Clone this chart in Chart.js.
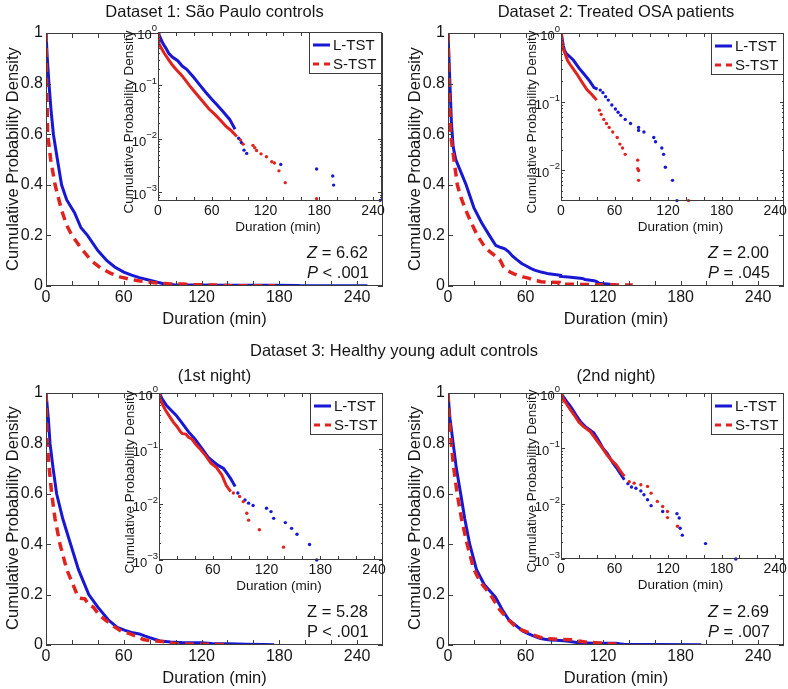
<!DOCTYPE html>
<html>
<head>
<meta charset="utf-8">
<script src="https://cdn.jsdelivr.net/npm/chart.js@4.4.1/dist/chart.umd.min.js"></script>
<style>
  body { margin: 0; width: 788px; height: 689px; position: relative; overflow: hidden; background: #fff;
         font-family: "Liberation Sans", Arial, sans-serif; color: #161616; }
  canvas { position: absolute; }
  .t { position: absolute; white-space: nowrap; line-height: 1; transform: translate(-50%, -50%); }
  .v { transform: translate(-50%, -50%) rotate(-90deg); }
  .s { position: absolute; white-space: nowrap; line-height: 1; transform: translateY(-50%); }
</style>
</head>
<body>
<script>
// =======================================
// Survival curves of bout durations
// L-TST vs S-TST, four datasets, log insets
// =======================================

// -------------------------------
// DATA: [duration (min), cumulative probability]
// "Head" = dense part, "Tail" = sparse points
// -------------------------------
const d1LongHead = [[0,1],[1,0.9],[2.3,0.8],[3.8,0.7],[5.7,0.6],[8.8,0.5],[12,0.4],[16,0.34],[22,0.29],[27,0.23],[32,0.2],[40,0.14],[47,0.1],[53,0.075],[60,0.055],[66,0.043],[72,0.033],[80,0.023],[86,0.015]];
const d1LongTail = [[90,0.0102],[93,0.0085],[96,0.0061],[99,0.0053],[137,0.0033],[177,0.0027],[195,0.002],[196,0.00135],[248,0.0007]];
const d1ShortHead = [[0,1],[0.5,0.8],[0.9,0.7],[1.3,0.6],[3.6,0.5],[7,0.4],[12,0.3],[16,0.24],[20,0.2],[27,0.15],[35,0.1],[42,0.072],[50,0.05],[57,0.036],[64,0.028],[70,0.022],[76,0.017],[82,0.014],[88,0.011]];
const d1ShortTail = [[92,0.0095],[95,0.0079],[106,0.0075],[108,0.0068],[110,0.006],[115,0.0052],[121,0.0046],[127,0.0037],[130,0.0035],[135,0.0025],[142,0.0015],[177,0.00075]];

const d2LongHead = [[0,1],[1.5,0.8],[2.6,0.65],[4,0.55],[6,0.5],[10,0.45],[14,0.4],[20,0.31],[26,0.25],[32,0.2],[37,0.16],[41,0.152]];
const d2LongTail = [[44,0.147],[47,0.135],[50,0.118],[53,0.105],[57,0.089],[61,0.078],[64,0.07],[67,0.063],[72,0.055],[78,0.048],[87,0.042],[87,0.038],[93,0.036],[104,0.03],[106,0.026],[113,0.021],[115,0.017],[117,0.011],[125,0.0071],[130,0.0036]];
const d2ShortHead = [[0,1],[0.8,0.8],[2,0.6],[4.6,0.5],[7.2,0.4],[10,0.35],[13.7,0.3],[18,0.25],[22.7,0.2],[29,0.15],[35,0.125],[40,0.105]];
const d2ShortTail = [[43,0.075],[45,0.065],[48,0.055],[51,0.048],[54,0.042],[58,0.036],[63,0.03],[66,0.024],[69,0.021],[72,0.017],[86,0.014],[86,0.0105],[87,0.0099],[87,0.0071],[143,0.0036]];

const d3LongHead = [[0,1],[1.8,0.9],[3.1,0.8],[5.5,0.7],[8.2,0.6],[13,0.5],[19,0.4],[25,0.3],[33,0.2],[40,0.15],[48,0.1],[55,0.07],[61,0.058],[66,0.05],[72,0.044],[76,0.036],[80,0.029],[85,0.021]];
const d3LongTail = [[88,0.016],[96,0.012],[100,0.0105],[105,0.0095],[120,0.0085],[125,0.0074],[128,0.0056],[141,0.0047],[148,0.0037],[154,0.0029],[168,0.0019],[176,0.001]];
const d3ShortHead = [[0,1],[1,0.8],[2.5,0.7],[4.4,0.6],[7,0.5],[10.8,0.4],[16,0.3],[20,0.25],[24,0.2],[26,0.186],[30,0.183],[33,0.16],[36.5,0.15],[41,0.12],[45.6,0.1],[52,0.075],[58,0.055],[64,0.046],[70,0.034],[75,0.022],[80,0.017]];
const d3ShortTail = [[83,0.016],[90,0.0138],[94,0.0112],[98,0.0069],[100,0.0052],[112,0.0035],[139,0.0017]];

const d4LongHead = [[0,1],[1.5,0.9],[4,0.8],[6.5,0.7],[9.8,0.6],[13,0.5],[16.8,0.4],[22,0.3],[28,0.24],[36.7,0.19],[42,0.14],[47,0.1],[52,0.08],[58,0.055],[62,0.045],[66,0.036],[71,0.027]];
const d4LongTail = [[75,0.023],[79,0.02],[84,0.019],[89.5,0.017],[93,0.0145],[97,0.0118],[101,0.0092],[114,0.0072],[130,0.0066],[132.5,0.0055],[133.6,0.0036],[136,0.0027],[162,0.0019],[196,0.001]];
const d4ShortHead = [[0,1],[1,0.9],[2.5,0.8],[4.5,0.7],[7.1,0.6],[10.5,0.5],[14.8,0.4],[20,0.3],[25,0.25],[32.8,0.2],[40,0.14],[46.7,0.1],[52,0.075],[57,0.06],[62,0.05],[66,0.04],[71,0.031]];
const d4ShortTail = [[76.5,0.025],[82,0.0235],[89.5,0.022],[97,0.0205],[101,0.0155],[108,0.011],[114,0.0089],[119.4,0.0072],[119.4,0.0056],[130.6,0.0039]];

// ticks and labels
const xTickMarks = [0, 20, 40, 60, 80, 100, 120, 140, 160, 180, 200, 220, 240];
const xTickLabels = [0, 60, 120, 180, 240];
const mainYTicks = [0, 0.2, 0.4, 0.6, 0.8, 1];
const mainYLabels = ["0", "0.2", "0.4", "0.6", "0.8", "1"];
const seriesNames = ["L-TST", "S-TST"];

// text
const panelTitles = ["Dataset 1: São Paulo controls", "Dataset 2: Treated OSA patients", "(1st night)", "(2nd night)"];
const groupTitle = "Dataset 3: Healthy young adult controls";
const zValues = ["6.62", "2.00", "5.28", "2.69"];
const pValues = ["< .001", "= .045", "< .001", "= .007"];

// -------------------------------
// LAYOUT (page pixels: left, top, right, bottom of plot areas)
// -------------------------------
const LAYOUT = [
  { main: [46, 33, 383, 286], inset: [158, 32, 382, 201], logMin: 0.00068, italic: true },
  { main: [448, 33, 784, 286], inset: [561, 33, 784, 201], logMin: 0.00355, italic: true },
  { main: [46, 393, 383, 645], inset: [159, 393, 383, 560], logMin: 0.001, italic: false },
  { main: [448, 393, 784, 645], inset: [561, 393, 784, 559], logMin: 0.001, italic: true }
];

const BLUE = "#1717d4";
const RED = "#e12320";
const INK = "#161616";
const FRAME = "#3c3c3c";
const FAMILY = "'Liberation Sans', Arial, sans-serif";

Chart.defaults.font.family = FAMILY;
Chart.defaults.color = INK;

const toXY = pts => pts.map(([x, y]) => ({ x, y }));

function addCanvas(x, y, w, h) {
  const c = document.createElement("canvas");
  c.width = w;
  c.height = h;
  c.style.left = x + "px";
  c.style.top = y + "px";
  c.style.width = w + "px";
  c.style.height = h + "px";
  document.body.appendChild(c);
  return c;
}

function addText(html, x, y, size, cls) {
  const d = document.createElement("div");
  d.className = cls;
  d.innerHTML = html;
  d.style.left = x + "px";
  d.style.top = y + "px";
  d.style.fontSize = size + "px";
  document.body.appendChild(d);
  return d;
}

// -------------------------------
// Plugins: box with inward ticks, inset decorations
// -------------------------------
const frameTicks = {
  id: "frameTicks",
  afterDraw(chart, args, opts) {
    const { ctx, chartArea: a, scales } = chart;
    const len = opts.len || 5;
    ctx.save();
    ctx.strokeStyle = FRAME;
    ctx.lineWidth = 1;
    ctx.beginPath();
    scales.x.ticks.forEach(tk => {
      const px = Math.round(scales.x.getPixelForValue(tk.value)) + 0.5;
      ctx.moveTo(px, a.bottom);
      ctx.lineTo(px, a.bottom - len);
      ctx.moveTo(px, a.top);
      ctx.lineTo(px, a.top + len);
    });
    scales.y.ticks.forEach(tk => {
      const py = Math.round(scales.y.getPixelForValue(tk.value)) + 0.5;
      const l = tk.minor ? len * 0.5 : len;
      ctx.moveTo(a.left, py);
      ctx.lineTo(a.left + l, py);
      ctx.moveTo(a.right, py);
      ctx.lineTo(a.right - l, py);
    });
    ctx.stroke();
    ctx.strokeRect(a.left + 0.5, a.top + 0.5, a.right - a.left - 1, a.bottom - a.top - 1);
    ctx.restore();
  }
};

const insetDecor = {
  id: "insetDecor",
  beforeDraw(chart) {
    const { ctx, chartArea: a } = chart;
    ctx.save();
    ctx.fillStyle = "#fff";
    ctx.fillRect(a.left, a.top, a.right - a.left, a.bottom - a.top);
    ctx.restore();
  },
  afterDraw(chart) {
    const { ctx, chartArea: a, scales } = chart;
    ctx.save();
    ctx.fillStyle = INK;

    // 10^k labels on the log axis
    scales.y.ticks.filter(tk => !tk.minor).forEach(tk => {
      const py = scales.y.getPixelForValue(tk.value);
      const exp = String(Math.round(Math.log10(tk.value))).replace("-", "\u2212");
      ctx.font = "9.5px " + FAMILY;
      const ew = ctx.measureText(exp).width;
      ctx.textAlign = "right";
      ctx.textBaseline = "alphabetic";
      ctx.fillText(exp, a.left - 1, py - 1);
      ctx.font = "13px " + FAMILY;
      ctx.fillText("10", a.left - 1 - ew, py + 7);
    });

    // legend box, top right
    const w = 73, h = 42;
    const x0 = a.right - w, y0 = a.top;
    ctx.fillStyle = "#fff";
    ctx.fillRect(x0, y0, w, h);
    ctx.strokeStyle = FRAME;
    ctx.lineWidth = 1;
    ctx.strokeRect(x0 + 0.5, y0 + 0.5, w - 1, h - 1);
    const rows = [
      { name: seriesNames[0], color: BLUE, dash: [], y: y0 + 13 },
      { name: seriesNames[1], color: RED, dash: [6, 5], y: y0 + 32 }
    ];
    rows.forEach(r => {
      ctx.beginPath();
      ctx.strokeStyle = r.color;
      ctx.lineWidth = 3;
      ctx.setLineDash(r.dash);
      ctx.moveTo(x0 + 4, r.y);
      ctx.lineTo(x0 + 21, r.y);
      ctx.stroke();
      ctx.setLineDash([]);
      ctx.fillStyle = INK;
      ctx.font = "15px " + FAMILY;
      ctx.textAlign = "left";
      ctx.textBaseline = "middle";
      ctx.fillText(r.name, x0 + 24, r.y + 1);
    });
    ctx.restore();
  }
};

function logTicks(min, max) {
  const out = [];
  for (let k = Math.floor(Math.log10(min)); k <= 0; k++) {
    for (let m = 1; m <= 9; m++) {
      const v = m * Math.pow(10, k);
      if (v >= min * 0.999 && v <= max * 1.001) out.push({ value: v, minor: m !== 1 });
    }
  }
  return out;
}

// -------------------------------
// MAIN PANEL (linear)
// -------------------------------
function drawMain(i, longPts, shortPts) {
  const [l, t, r, b] = LAYOUT[i].main;
  const padL = 46, padT = 14, padR = 6, padB = 24;
  const cv = addCanvas(l - padL, t - padT, r - l + padL + padR, b - t + padT + padB);

  new Chart(cv, {
    type: "scatter",
    data: {
      datasets: [
        { data: toXY(shortPts), showLine: true, borderColor: RED, borderWidth: 3.5, borderDash: [9, 6], pointRadius: 0 },
        { data: toXY(longPts), showLine: true, borderColor: BLUE, borderWidth: 3, pointRadius: 0 }
      ]
    },
    options: {
      responsive: false,
      animation: false,
      devicePixelRatio: 1,
      layout: { padding: { top: padT, right: padR, left: 0, bottom: 0 } },
      plugins: { legend: { display: false }, tooltip: { enabled: false }, frameTicks: { len: 5 } },
      scales: {
        x: {
          type: "linear", min: 0, max: 260,
          grid: { display: false, drawTicks: false }, border: { display: false },
          afterBuildTicks: s => { s.ticks = xTickMarks.map(v => ({ value: v })); },
          ticks: {
            autoSkip: false, maxRotation: 0, padding: 2, font: { size: 16 }, color: INK,
            callback: v => xTickLabels.includes(v) ? String(v) : ""
          },
          afterFit: s => { s.height = padB; }
        },
        y: {
          type: "linear", min: 0, max: 1,
          grid: { display: false, drawTicks: false }, border: { display: false },
          afterBuildTicks: s => { s.ticks = mainYTicks.map(v => ({ value: v })); },
          ticks: {
            autoSkip: false, padding: 3, font: { size: 16 }, color: INK,
            callback: (v, idx) => mainYLabels[idx]
          },
          afterFit: s => { s.width = padL; }
        }
      }
    },
    plugins: [frameTicks]
  });
}

// -------------------------------
// INSET (log y)
// -------------------------------
function drawInset(i, longHead, longTail, shortHead, shortTail) {
  const L = LAYOUT[i];
  const [l, t, r, b] = L.inset;
  const padL = 44, padT = 8, padR = 6, padB = 20;
  const cv = addCanvas(l - padL, t - padT, r - l + padL + padR, b - t + padT + padB);

  const dots = c => ({ showLine: false, backgroundColor: c, pointRadius: 1.7, pointBorderWidth: 0, clip: false });
  const line = c => ({ showLine: true, borderColor: c, borderWidth: 3, pointRadius: 0 });

  new Chart(cv, {
    type: "scatter",
    data: {
      datasets: [
        { data: toXY(shortHead), ...line(RED) },
        { data: toXY(shortTail), ...dots(RED) },
        { data: toXY(longHead), ...line(BLUE) },
        { data: toXY(longTail), ...dots(BLUE) }
      ]
    },
    options: {
      responsive: false,
      animation: false,
      devicePixelRatio: 1,
      layout: { padding: { top: padT, right: padR, left: 0, bottom: 0 } },
      plugins: { legend: { display: false }, tooltip: { enabled: false }, frameTicks: { len: 4 } },
      scales: {
        x: {
          type: "linear", min: 0, max: 250,
          grid: { display: false, drawTicks: false }, border: { display: false },
          afterBuildTicks: s => { s.ticks = xTickMarks.map(v => ({ value: v })); },
          ticks: {
            autoSkip: false, maxRotation: 0, padding: 2, font: { size: 14 }, color: INK,
            callback: v => xTickLabels.includes(v) ? String(v) : ""
          },
          afterFit: s => { s.height = padB; }
        },
        y: {
          type: "logarithmic", min: L.logMin, max: 1,
          grid: { display: false, drawTicks: false }, border: { display: false },
          afterBuildTicks: s => { s.ticks = logTicks(L.logMin, 1); },
          ticks: { display: false },
          afterFit: s => { s.width = padL; }
        }
      }
    },
    plugins: [frameTicks, insetDecor]
  });
}

// -------------------------------
// BUILD
// -------------------------------
const series = [
  [d1LongHead, d1LongTail, d1ShortHead, d1ShortTail],
  [d2LongHead, d2LongTail, d2ShortHead, d2ShortTail],
  [d3LongHead, d3LongTail, d3ShortHead, d3ShortTail],
  [d4LongHead, d4LongTail, d4ShortHead, d4ShortTail]
];

series.forEach(([lh, lt, sh, st], i) => {
  drawMain(i, lh.concat(lt), sh.concat(st));
  drawInset(i, lh, lt, sh, st);
});

// -------------------------------
// TEXT
// -------------------------------
LAYOUT.forEach((L, i) => {
  const [l, t, r, b] = L.main;
  const [il, it, ir, ib] = L.inset;
  const cx = (l + r) / 2;

  addText(panelTitles[i], cx, i < 2 ? t - 22 : t - 18, 16.5, "t");
  addText("Cumulative Probability Density", l - 34, (t + b) / 2 - 1, 16.5, "t v");
  addText("Duration (min)", cx, b + 32, 16.5, "t");

  addText("Cumulative Probability Density", il - 29, (it + ib) / 2 + 5, 13.5, "t v");
  addText("Duration (min)", (il + ir) / 2 + 8, ib + 26, 13.5, "t");

  const z = L.italic ? "<i>Z</i>" : "Z";
  const p = L.italic ? "<i>P</i>" : "P";
  addText(z + " = " + zValues[i], r - 76, b - 34, 16.5, "s");
  addText(p + " " + pValues[i], r - 76, b - 14, 16.5, "s");
});

addText(groupTitle, 394, 350, 16.5, "t");
</script>
</body>
</html>
